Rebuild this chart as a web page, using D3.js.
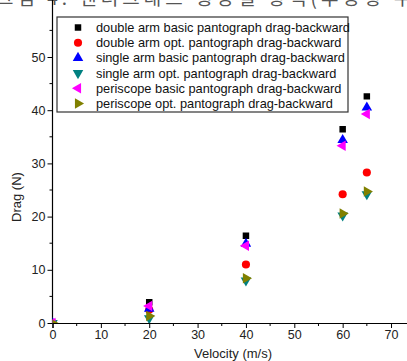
<!DOCTYPE html>
<html>
<head>
<meta charset="utf-8">
<script src="https://cdn.jsdelivr.net/npm/d3@7"></script>
<style>
  body { margin: 0; background: #fff; }
  text { font-family: "Liberation Sans", Arial, sans-serif; }
</style>
</head>
<body>
<svg></svg>
<script>
// data
var velocity = [0, 20, 40, 60, 65];
var seriesNames = [
    'double arm basic pantograph drag-backward',
    'double arm opt. pantograph drag-backward',
    'single arm basic pantograph drag-backward',
    'single arm opt. pantograph drag-backward',
    'periscope basic pantograph drag-backward',
    'periscope opt. pantograph drag-backward'
];
var doubleBasic = [0, 3.9, 16.4, 36.4, 42.6];
var doubleOpt = [0, 2.5, 11.0, 24.2, 28.3];
var singleBasic = [0, 2.7, 14.9, 34.4, 40.5];
var singleOpt = [0, 0.9, 8.0, 20.2, 24.2];
var periBasic = [0, 3.2, 14.5, 33.3, 39.3];
var periOpt = [0, 1.3, 8.4, 20.6, 24.7];
var xTicks = [0, 10, 20, 30, 40, 50, 60, 70];
var yTicks = [0, 10, 20, 30, 40, 50];

var width = 407;
var height = 361;

var svg = d3.select('svg')
    .attr('width', width)
    .attr('height', height);

var x = d3.scaleLinear().domain([0, 75]).range([52.5, 52.5 + 75 * 4.836]);
var y = d3.scaleLinear().domain([0, 56]).range([323, 323 - 56 * 5.32]);

// caption fragment from the page above (cut off at the top)
svg.append('text')
    .attr('x', -4)
    .attr('y', 5)
    .style('font-family', '"Noto Sans CJK KR", sans-serif')
    .attr('font-size', 19)
    .attr('fill', '#555')
    .attr('letter-spacing', 4)
    .text('그림 4. 팬터그래프 형상별 항력(후방향 주행)');

// axes
var xAxis = d3.axisBottom(x).tickValues(xTicks).tickSize(5).tickPadding(2).tickFormat(d3.format('d'));
var yAxis = d3.axisLeft(y).tickValues(yTicks).tickSize(5).tickPadding(2).tickFormat(d3.format('d'));

var gx = svg.append('g').attr('transform', 'translate(0,' + y(0) + ')').call(xAxis);
var gy = svg.append('g').attr('transform', 'translate(' + x(0) + ',0)').call(yAxis);

// minor ticks
gx.selectAll('.minor').data(d3.range(5, 75, 10)).enter().append('line')
    .attr('x1', function (d) { return x(d); })
    .attr('x2', function (d) { return x(d); })
    .attr('y1', 0).attr('y2', 3)
    .attr('stroke', '#000');
gy.selectAll('.minor').data(d3.range(5, 56, 10)).enter().append('line')
    .attr('y1', function (d) { return y(d); })
    .attr('y2', function (d) { return y(d); })
    .attr('x1', 0).attr('x2', -3)
    .attr('stroke', '#000');

[gx, gy].forEach(function (g) {
    g.select('.domain').attr('stroke', '#000').attr('stroke-width', 1.2);
    g.selectAll('.tick line').attr('stroke', '#000');
    g.selectAll('.tick text')
        .attr('font-size', 12.5)
        .attr('fill', '#222')
        .style('font-family', '"Liberation Sans", Arial, sans-serif');
});
gy.select('.domain').attr('d', 'M0,' + y(0) + 'V0');

// axis titles
svg.append('text')
    .attr('transform', 'translate(21,' + 197 + ') rotate(-90)')
    .attr('text-anchor', 'middle')
    .attr('font-size', 13)
    .attr('fill', '#222')
    .text('Drag (N)');
svg.append('text')
    .attr('x', 233)
    .attr('y', 358)
    .attr('text-anchor', 'middle')
    .attr('font-size', 13)
    .attr('fill', '#222')
    .text('Velocity (m/s)');

// series styles
var series = [
    {name: seriesNames[0], values: doubleBasic, color: '#000000', type: d3.symbolSquare, size: 42, rot: 0},
    {name: seriesNames[1], values: doubleOpt, color: '#ff0000', type: d3.symbolCircle, size: 52, rot: 0},
    {name: seriesNames[2], values: singleBasic, color: '#0000ff', type: d3.symbolTriangle, size: 48, rot: 0},
    {name: seriesNames[3], values: singleOpt, color: '#008080', type: d3.symbolTriangle, size: 48, rot: 180},
    {name: seriesNames[4], values: periBasic, color: '#ff00ff', type: d3.symbolTriangle, size: 48, rot: -90},
    {name: seriesNames[5], values: periOpt, color: '#808000', type: d3.symbolTriangle, size: 48, rot: 90}
];

svg.append('clipPath').attr('id', 'plotclip')
    .append('rect')
    .attr('x', x(0)).attr('y', 0)
    .attr('width', width - x(0)).attr('height', y(0));

var plot = svg.append('g').attr('clip-path', 'url(#plotclip)');

series.forEach(function (s) {
    plot.selectAll(null)
        .data(velocity.map(function (v, i) { return {x: v, y: s.values[i]}; }))
        .enter().append('path')
        .attr('d', d3.symbol().type(s.type).size(s.size))
        .attr('transform', function (d) {
            return 'translate(' + x(d.x) + ',' + y(d.y) + ') rotate(' + s.rot + ')';
        })
        .attr('fill', s.color);
});

// legend
var legend = svg.append('g');
legend.append('rect')
    .attr('x', 57).attr('y', 17)
    .attr('width', 291).attr('height', 95)
    .attr('fill', '#fff')
    .attr('stroke', '#333')
    .attr('stroke-width', 1.2);

var rows = legend.selectAll('g.row')
    .data(series)
    .enter().append('g')
    .attr('class', 'row')
    .attr('transform', function (d, i) { return 'translate(0,' + (27.5 + i * 15.2) + ')'; });

rows.append('path')
    .attr('d', function (d) { return d3.symbol().type(d.type).size(d.size)(); })
    .attr('transform', function (d) { return 'translate(78,0) rotate(' + d.rot + ')'; })
    .attr('fill', function (d) { return d.color; });

rows.append('text')
    .attr('x', 96)
    .attr('y', 4.5)
    .attr('font-size', 12.8)
    .attr('fill', '#111')
    .attr('textLength', 246)
    .text(function (d, i) { return d.name; })
    .attr('textLength', null);
</script>
</body>
</html>
